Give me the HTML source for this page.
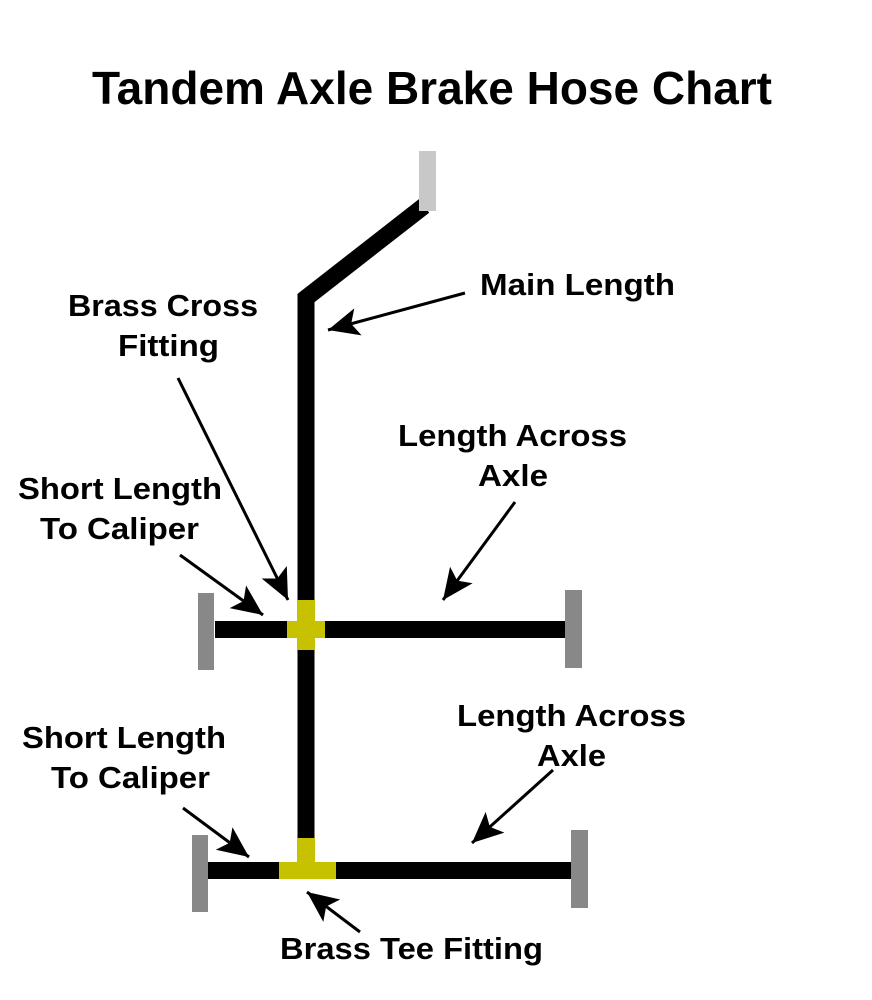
<!DOCTYPE html>
<html><head><style>html,body{margin:0;padding:0;background:#fff}svg{display:block}text{font-family:"Liberation Sans",sans-serif;font-weight:bold;fill:#000}</style></head>
<body>
<svg width="872" height="1000" viewBox="0 0 872 1000">
<defs>
<marker id="a" markerWidth="10" markerHeight="10" refX="9" refY="5" orient="auto" markerUnits="userSpaceOnUse" viewBox="0 0 10 10" style="overflow:visible">
<path d="M-22,-9 L9,5 L-22,19 L-15,5 Z" fill="#000"/>
</marker>
</defs>
<text x="92" y="104" font-size="46" textLength="680" lengthAdjust="spacingAndGlyphs">Tandem Axle Brake Hose Chart</text>
<polyline points="424,206 306,298 306,840" fill="none" stroke="#000" stroke-width="17" stroke-linejoin="miter"/>
<rect x="419" y="151" width="17" height="60" fill="#c8c8c8"/>
<rect x="215" y="621" width="352" height="17" fill="#000"/>
<rect x="198" y="593" width="16" height="77" fill="#888"/>
<rect x="565" y="590" width="17" height="78" fill="#888"/>
<rect x="297" y="600" width="18" height="50" fill="#c6c200"/>
<rect x="287" y="621" width="38" height="17" fill="#c6c200"/>
<rect x="208" y="862" width="364" height="17" fill="#000"/>
<rect x="192" y="835" width="16" height="77" fill="#888"/>
<rect x="571" y="830" width="17" height="78" fill="#888"/>
<rect x="297" y="838" width="18" height="26" fill="#c6c200"/>
<rect x="279" y="862" width="57" height="17" fill="#c6c200"/>
<g stroke="#000" stroke-width="3" marker-end="url(#a)">
<line x1="465" y1="293" x2="328" y2="330"/>
<line x1="178" y1="378" x2="288" y2="600"/>
<line x1="180" y1="555" x2="263" y2="615"/>
<line x1="515" y1="502" x2="443" y2="600"/>
<line x1="183" y1="808" x2="249" y2="857"/>
<line x1="553" y1="770" x2="472" y2="843"/>
<line x1="360" y1="932" x2="307" y2="892"/>
</g>
<g font-size="31" lengthAdjust="spacingAndGlyphs">
<text x="480" y="295" textLength="195" lengthAdjust="spacingAndGlyphs">Main Length</text>
<text x="68" y="316" textLength="190" lengthAdjust="spacingAndGlyphs">Brass Cross</text>
<text x="118" y="356" textLength="101" lengthAdjust="spacingAndGlyphs">Fitting</text>
<text x="398" y="446" textLength="229" lengthAdjust="spacingAndGlyphs">Length Across</text>
<text x="478" y="486" textLength="70" lengthAdjust="spacingAndGlyphs">Axle</text>
<text x="18" y="499" textLength="204" lengthAdjust="spacingAndGlyphs">Short Length</text>
<text x="40" y="539" textLength="159" lengthAdjust="spacingAndGlyphs">To Caliper</text>
<text x="457" y="726" textLength="229" lengthAdjust="spacingAndGlyphs">Length Across</text>
<text x="537" y="766" textLength="69" lengthAdjust="spacingAndGlyphs">Axle</text>
<text x="22" y="748" textLength="204" lengthAdjust="spacingAndGlyphs">Short Length</text>
<text x="51" y="788" textLength="159" lengthAdjust="spacingAndGlyphs">To Caliper</text>
<text x="280" y="959" textLength="263" lengthAdjust="spacingAndGlyphs">Brass Tee Fitting</text>
</g>
</svg>
</body></html>
